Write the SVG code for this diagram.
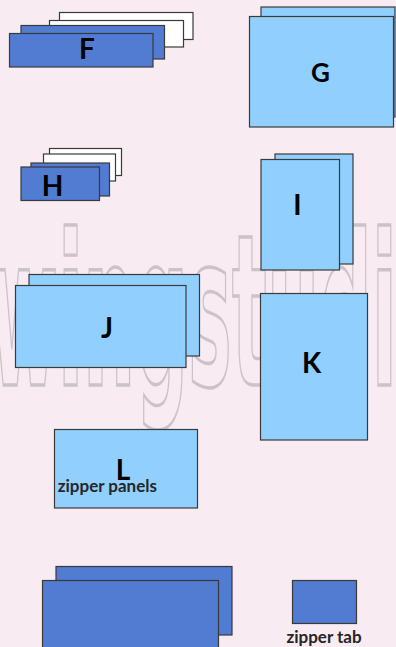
<svg xmlns="http://www.w3.org/2000/svg" width="396" height="647" viewBox="0 0 396 647">
<style>
.bg{fill:#f8ebf2}
.wm{fill:none;stroke:#cbc3c8;stroke-width:2.5;vector-effect:non-scaling-stroke;font-family:"DejaVu Sans",sans-serif;font-weight:700;font-size:210px}
.pc{stroke:#3a3a3a;stroke-width:1.2}
.wh{fill:#ffffff}
.db{fill:#527bd2}
.lb{fill:#91d0fe}
.lbl{font-family:Lato,"Liberation Sans",sans-serif;font-weight:700;font-size:28px;fill:#000;text-anchor:middle}
.cap{font-family:Lato,"Liberation Sans",sans-serif;font-weight:700;font-size:17px;fill:#262626}
</style>
<rect class="bg" x="0" y="0" width="396" height="647"/>
<g id="watermark">
<text class="wm" transform="translate(-10,385) scale(0.35,1)">wingstudi</text>
</g>
<g id="F">
<rect class="pc wh" x="59.5" y="12.5" width="133.5" height="27"/>
<rect class="pc wh" x="49.5" y="20.5" width="134" height="26.5"/>
<rect class="pc db" x="21" y="25.5" width="143.5" height="33.5"/>
<rect class="pc db" x="9.5" y="33.5" width="143.5" height="33.5"/>
<text class="lbl" x="87" y="59">F</text>
</g>
<g id="G">
<rect class="pc lb" x="261" y="7" width="134" height="110"/>
<rect class="pc lb" x="249.5" y="16.5" width="144" height="110.5"/>
<text class="lbl" x="320.5" y="81.5" style="font-size:26px">G</text>
</g>
<g id="H">
<rect class="pc wh" x="49.5" y="148.5" width="72" height="27"/>
<rect class="pc wh" x="43.5" y="154" width="72" height="27"/>
<rect class="pc db" x="31" y="163" width="78.5" height="33"/>
<rect class="pc db" x="21" y="167" width="78.5" height="33.5"/>
<text class="lbl" x="52.5" y="195.5">H</text>
</g>
<g id="I">
<rect class="pc lb" x="275" y="154" width="78" height="110"/>
<rect class="pc lb" x="261" y="159.5" width="78.5" height="110.5"/>
<text class="lbl" x="297.3" y="214.5">I</text>
</g>
<g id="J">
<rect class="pc lb" x="29" y="274.5" width="170.5" height="81.5"/>
<rect class="pc lb" x="15.5" y="285.5" width="170.5" height="82"/>
<text class="lbl" x="107" y="337.5">J</text>
</g>
<g id="K">
<rect class="pc lb" x="260.5" y="293.5" width="107" height="146.5"/>
<text class="lbl" x="311.5" y="372.5">K</text>
</g>
<g id="L">
<rect class="pc lb" x="54.5" y="429.5" width="143" height="78.5"/>
<text class="lbl" x="123" y="480">L</text>
<text class="cap" x="57.7" y="491.7">zipper panels</text>
</g>
<g id="M">
<rect class="pc db" x="56" y="566.5" width="176" height="68.5"/>
<rect class="pc db" x="42.5" y="580.5" width="176" height="80"/>
</g>
<g id="N">
<rect class="pc db" x="292.5" y="580.5" width="64" height="43"/>
<text class="cap" x="324" y="643" text-anchor="middle">zipper tab</text>
</g>
</svg>
